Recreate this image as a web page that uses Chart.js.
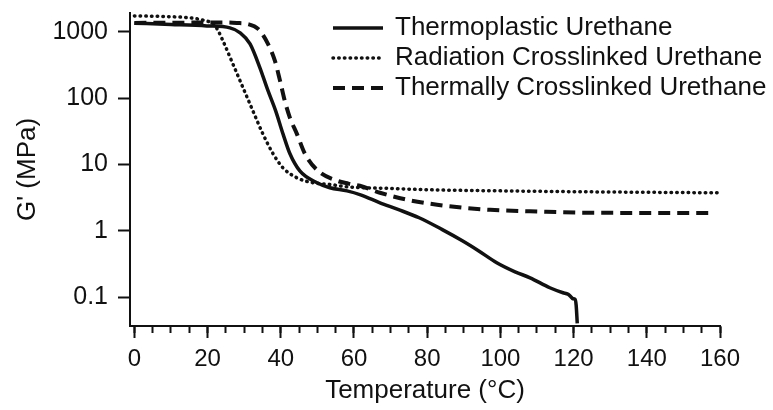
<!DOCTYPE html>
<html>
<head>
<meta charset="utf-8">
<script src="https://cdn.jsdelivr.net/npm/chart.js@4.4.1/dist/chart.umd.min.js"></script>
<style>
  html, body { margin: 0; padding: 0; background: #fff; }
</style>
</head>
<body>
<canvas id="canvas" width="773" height="410"></canvas>
<script>
const ctx = document.getElementById("canvas");

// values (temperature in °C, G' in MPa)
const tempThermoplastic = [0, 10, 19.8, 26.1, 28.9, 31.6, 34.3, 36.4, 38.6, 40.6, 42.5, 45.2, 49.9, 53.4, 58.1, 62, 67.1, 72, 77.8, 84, 89.6, 94, 99, 104, 108.1, 113.5, 117.1, 118.5, 119.3, 119.8, 120.4, 120.7, 121.0];
const gThermoplastic = [1358, 1300, 1236, 1153, 969, 662, 288, 135, 64.6, 29, 14.5, 8.0, 5.3, 4.45, 4.0, 3.45, 2.64, 2.1, 1.57, 1.05, 0.706, 0.5, 0.329, 0.24, 0.195, 0.138, 0.116, 0.11, 0.1, 0.094, 0.092, 0.075, 0.04];

const tempRadiation = [0, 10, 15.2, 19, 21.5, 22.6, 24.2, 26.9, 29.7, 32.3, 35.1, 37.9, 40.6, 44.4, 48.8, 53.4, 58.1, 70, 80.8, 100, 123.6, 159.2];
const gRadiation = [1750, 1700, 1633, 1500, 1324, 1114, 734, 330, 143, 66, 29, 14.5, 8.9, 6.3, 5.3, 5.0, 4.61, 4.35, 4.15, 4.0, 3.87, 3.74];

const tempThermal = [0, 10, 20.7, 25.3, 28, 30.8, 33.8, 36.5, 38.4, 39.8, 41.1, 42.5, 44.4, 46.6, 50.2, 55.4, 58.5, 61.6, 67.1, 75, 82.7, 90, 97.2, 110, 123.6, 140, 157.3];
const gThermal = [1370, 1380, 1390, 1390, 1370, 1324, 1114, 662, 366, 183, 91, 50.6, 29, 14.5, 8.0, 5.68, 5.15, 4.77, 3.75, 2.9, 2.47, 2.22, 2.07, 1.95, 1.87, 1.86, 1.86];

const seriesLabels = ["Thermoplastic Urethane", "Radiation Crosslinked Urethane", "Thermally Crosslinked Urethane"];

const xTicks = [0, 20, 40, 60, 80, 100, 120, 140, 160];
const yTicks = [0.1, 1, 10, 100, 1000];

const ink = "#111";
const fontFamily = "'Liberation Sans', Arial, sans-serif";

function toPoints(xs, ys) {
  return xs.map((x, i) => ({ x: x, y: ys[i] }));
}

function noPadding(scale) {
  scale.paddingLeft = 0;
  scale.paddingRight = 0;
  scale.paddingTop = 0;
  scale.paddingBottom = 0;
}

const datasets = [
  {
    label: seriesLabels[0],
    data: toPoints(tempThermoplastic, gThermoplastic),
    borderColor: ink,
    borderWidth: 3.5,
  },
  {
    label: seriesLabels[1],
    data: toPoints(tempRadiation, gRadiation),
    borderColor: ink,
    borderWidth: 3.5,
    borderDash: [0.5, 5.2],
    borderCapStyle: "round",
  },
  {
    label: seriesLabels[2],
    data: toPoints(tempThermal, gThermal),
    borderColor: ink,
    borderWidth: 4,
    borderDash: [12, 7],
  },
];

// legend drawn as a column of line samples, top right of the plot
const lineLegend = {
  id: "lineLegend",
  afterDraw(chart) {
    const c = chart.ctx;
    chart.data.datasets.forEach((ds, i) => {
      const y = 28 + i * 30;
      c.save();
      c.strokeStyle = ds.borderColor;
      c.lineWidth = ds.borderWidth;
      c.lineCap = ds.borderCapStyle || "butt";
      c.setLineDash(ds.borderDash || []);
      c.beginPath();
      c.moveTo(333, y);
      c.lineTo(383, y);
      c.stroke();
      c.setLineDash([]);
      c.fillStyle = ink;
      c.font = "26px " + fontFamily;
      c.textAlign = "left";
      c.textBaseline = "middle";
      c.fillText(ds.label, 395, y);
      c.restore();
    });
  },
};

const config = {
  type: "line",
  data: { datasets: datasets },
  plugins: [lineLegend],
  options: {
    responsive: false,
    animation: false,
    layout: { padding: { left: 0, right: 53, top: 13, bottom: 0 } },
    elements: {
      point: { radius: 0 },
      line: { cubicInterpolationMode: "monotone", fill: false },
    },
    plugins: {
      legend: { display: false },
      tooltip: { enabled: false },
    },
    scales: {
      x: {
        type: "linear",
        position: "bottom",
        weight: 1,
        min: -1.2,
        max: 160,
        afterBuildTicks(scale) {
          scale.ticks = xTicks.map((v) => ({ value: v }));
        },
        afterFit(scale) {
          scale.height = 84;
          noPadding(scale);
        },
        border: { color: ink, width: 2 },
        grid: { drawOnChartArea: false, tickLength: 12, tickWidth: 2, tickColor: ink },
        ticks: {
          color: ink,
          padding: 7,
          maxRotation: 0,
          autoSkip: false,
          font: { family: fontFamily, size: 24 },
        },
        title: {
          display: true,
          text: "Temperature (°C)",
          color: ink,
          padding: { top: 0, bottom: 4 },
          font: { family: fontFamily, size: 26 },
        },
      },
      xMinor: {
        type: "linear",
        position: "bottom",
        weight: 0,
        min: -1.2,
        max: 160,
        afterFit(scale) {
          scale.height = 0;
          noPadding(scale);
        },
        border: { display: false },
        grid: { drawOnChartArea: false, tickLength: 7, tickWidth: 2, tickColor: ink },
        ticks: { display: false, stepSize: 5, includeBounds: false },
      },
      y: {
        type: "logarithmic",
        position: "left",
        min: 0.0365,
        max: 1935,
        afterBuildTicks(scale) {
          scale.ticks = yTicks.map((v) => ({ value: v }));
        },
        afterFit(scale) {
          scale.width = 130;
          noPadding(scale);
        },
        border: { color: ink, width: 2 },
        grid: { drawOnChartArea: false, tickLength: 12, tickWidth: 2, tickColor: ink },
        ticks: {
          color: ink,
          padding: 10,
          font: { family: fontFamily, size: 25 },
          callback: (value) => String(value),
        },
        title: {
          display: true,
          text: "G' (MPa)",
          color: ink,
          padding: { top: 12, bottom: 0 },
          font: { family: fontFamily, size: 26 },
        },
      },
    },
  },
};

new Chart(ctx, config);
</script>
</body>
</html>
